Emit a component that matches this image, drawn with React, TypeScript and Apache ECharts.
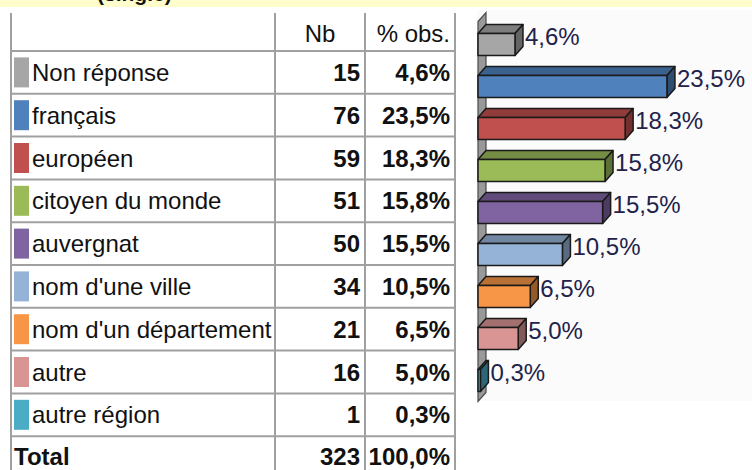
import React, { useEffect, useRef } from "react";
import * as echarts from "echarts";

const title = "(single)";
const headers = ["Nb", "% obs."];
const categories = [
  "Non réponse",
  "français",
  "européen",
  "citoyen du monde",
  "auvergnat",
  "nom d'une ville",
  "nom d'un département",
  "autre",
  "autre région",
];
const counts = [15, 76, 59, 51, 50, 34, 21, 16, 1];
const percents = [4.6, 23.5, 18.3, 15.8, 15.5, 10.5, 6.5, 5.0, 0.3];
const totalLabel = "Total";
const totalCount = 323;
const totalPercent = 100.0;

const COLORS = ["#A6A6A6", "#4F81BD", "#C0504D", "#9BBB59", "#8064A2", "#95B3D7", "#F79646", "#D99594", "#4BACC6"];
const FONT = "'Liberation Sans', Arial, sans-serif";

function shade(hex: string, f: number) {
  const n = parseInt(hex.slice(1), 16);
  const r = Math.round(((n >> 16) & 255) * f);
  const g = Math.round(((n >> 8) & 255) * f);
  const b = Math.round((n & 255) * f);
  return "rgb(" + r + "," + g + "," + b + ")";
}
const fmtPct = (p: number) => p.toFixed(1).replace(".", ",") + "%";

export default function App() {
  const ref = useRef<HTMLDivElement>(null);
  useEffect(() => {
    if (!ref.current) return;
    const chart = echarts.init(ref.current, undefined, { renderer: "svg" });

    const DX = 8;
    const DY = 9;
    const FH = 11;

    // Table layout
    const colX = [11, 275, 365, 455];
    const headTop = 13;
    const rowTop = 51;
    const rowH = 42.8;
    const nRows = categories.length + 1;
    const fs = 24;
    const lineStyle = { stroke: "#A0A0A0", lineWidth: 2 };
    const g: any[] = [];

    g.push({ type: "rect", shape: { x: 0, y: 0, width: 752, height: 7 }, style: { fill: "#FFFDCC" }, z: 0 });
    g.push({
      type: "text", x: 97, y: 4, z: 1,
      style: { text: title, fill: "#111", fontSize: 21, fontWeight: "bold", fontFamily: FONT, verticalAlign: "bottom" },
    });
    g.push({ type: "rect", shape: { x: 477, y: 10, width: 275, height: 391 }, style: { fill: "#FBFBFB" }, z: 0 });

    colX.forEach((x) => {
      g.push({ type: "line", shape: { x1: x, y1: headTop, x2: x, y2: 470 }, style: lineStyle, z: 1 });
    });
    for (let k = 0; k < nRows; k++) {
      const y = rowTop + rowH * k;
      g.push({ type: "line", shape: { x1: colX[0], y1: y, x2: colX[3], y2: y }, style: lineStyle, z: 1 });
    }
    const headY = (headTop + rowTop) / 2 + 1;
    g.push({ type: "text", x: (colX[1] + colX[2]) / 2, y: headY, z: 2, style: { text: headers[0], fill: "#111", fontSize: fs, fontFamily: FONT, align: "center", verticalAlign: "middle" } });
    g.push({ type: "text", x: colX[3] - 5, y: headY, z: 2, style: { text: headers[1], fill: "#111", fontSize: fs, fontFamily: FONT, align: "right", verticalAlign: "middle" } });

    categories.forEach((c, i) => {
      const cy = rowTop + rowH * (i + 0.5);
      g.push({ type: "rect", z: 2, shape: { x: 14, y: cy - 15, width: 15, height: 30 }, style: { fill: COLORS[i] } });
      g.push({ type: "text", x: 32, y: cy, z: 2, style: { text: c, fill: "#111", fontSize: fs, fontFamily: FONT, align: "left", verticalAlign: "middle" } });
      g.push({ type: "text", x: colX[2] - 5, y: cy, z: 2, style: { text: String(counts[i]), fill: "#111", fontSize: fs, fontWeight: "bold", fontFamily: FONT, align: "right", verticalAlign: "middle" } });
      g.push({ type: "text", x: colX[3] - 5, y: cy, z: 2, style: { text: fmtPct(percents[i]), fill: "#111", fontSize: fs, fontWeight: "bold", fontFamily: FONT, align: "right", verticalAlign: "middle" } });
    });
    const ty = rowTop + rowH * (categories.length + 0.5) - 1.5;
    g.push({ type: "text", x: 14, y: ty, z: 2, style: { text: totalLabel, fill: "#111", fontSize: fs, fontWeight: "bold", fontFamily: FONT, align: "left", verticalAlign: "middle" } });
    g.push({ type: "text", x: colX[2] - 5, y: ty, z: 2, style: { text: String(totalCount), fill: "#111", fontSize: fs, fontWeight: "bold", fontFamily: FONT, align: "right", verticalAlign: "middle" } });
    g.push({ type: "text", x: colX[3] - 5, y: ty, z: 2, style: { text: fmtPct(totalPercent), fill: "#111", fontSize: fs, fontWeight: "bold", fontFamily: FONT, align: "right", verticalAlign: "middle" } });

    const option: any = {
      animation: false,
      graphic: g,
      grid: { left: 478, top: 23.5, width: 241.2, height: 378, containLabel: false },
      xAxis: { type: "value", min: 0, max: 30, show: false },
      yAxis: { type: "category", data: categories, inverse: true, show: false },
      series: [
        {
          type: "custom",
          z: 3,
          data: [[0, 0]],
          renderItem: (params: any) => {
            const cs = params.coordSys;
            const x0 = cs.x;
            const yTop = cs.y - 11;
            const yBot = cs.y + cs.height;
            return {
              type: "polygon",
              shape: { points: [[x0, yTop + DY], [x0 + DX, yTop], [x0 + DX, yBot - DY], [x0, yBot]] },
              style: { fill: "#999999", stroke: "#4A4A4A", lineWidth: 1.2 },
            };
          },
        },
        {
          type: "custom",
          z: 4,
          encode: { x: 0, y: 1 },
          data: percents.map((p, i) => [p, i]),
          renderItem: (params: any, api: any) => {
            const v = api.value(0);
            const idx = api.value(1);
            const p0 = api.coord([0, idx]);
            const p1 = api.coord([v, idx]);
            const x0 = p0[0];
            const x1 = p1[0];
            const cy = p1[1];
            const y0 = cy - FH;
            const y1 = cy + FH;
            const col = COLORS[params.dataIndex];
            const st = { stroke: "#1A1A1A", lineWidth: 1.5, lineJoin: "round" };
            return {
              type: "group",
              children: [
                {
                  type: "polygon",
                  shape: { points: [[x0, y0], [x0 + DX, y0 - DY], [x1 + DX, y0 - DY], [x1, y0]] },
                  style: { fill: shade(col, 0.75), ...st },
                },
                {
                  type: "polygon",
                  shape: { points: [[x1, y0], [x1 + DX, y0 - DY], [x1 + DX, y1 - DY], [x1, y1]] },
                  style: { fill: shade(col, 0.6), ...st },
                },
                {
                  type: "rect",
                  shape: { x: x0, y: y0, width: x1 - x0, height: y1 - y0 },
                  style: { fill: col, ...st },
                },
                {
                  type: "text",
                  x: x1 + DX + 2,
                  y: cy - DY + 1,
                  style: { text: fmtPct(v), fill: "#22224A", fontSize: 24, fontFamily: FONT, align: "left", verticalAlign: "middle" },
                },
              ],
            };
          },
        },
      ],
    };
    chart.setOption(option);
    return () => chart.dispose();
  }, []);
  return <div ref={ref} style={{ position: "absolute", left: 0, top: 0, width: 752, height: 470 }} />;
}
